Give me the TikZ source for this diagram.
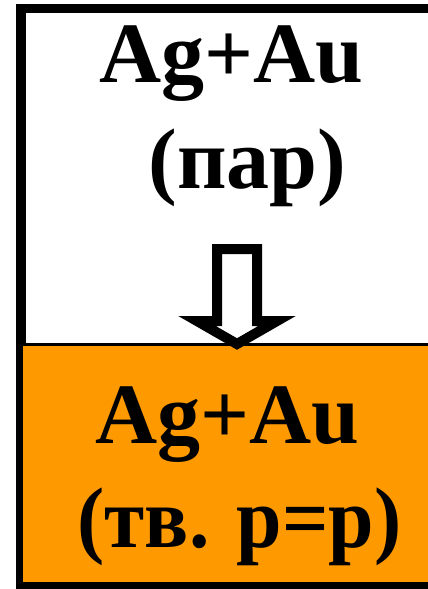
\documentclass[tikz,border=0pt]{standalone}
\usepackage{fontspec}
\setmainfont{Liberation Serif}
\usetikzlibrary{positioning}
\definecolor{solidorange}{RGB}{255,153,0}

\begin{document}
\begin{tikzpicture}[x=1pt,y=-1pt,every node/.style={font=\fontsize{86}{100}\selectfont\bfseries,inner sep=0pt,anchor=base}]
\useasboundingbox (0,0) rectangle (428,589);
\clip (0,0) rectangle (428,589);
\draw[line width=9.5pt] (21,8.5) rectangle (450,588);
\draw[line width=2.5pt,fill=solidorange] (22,344.5) rectangle (450,583.5);
\coordinate (a0) at (217,249);
\coordinate (a1) at (257,249);
\coordinate (a2) at (257,321);
\coordinate (a3) at (277,321);
\coordinate (a4) at (237,344);
\coordinate (a5) at (197,321);
\coordinate (a6) at (217,321);
\draw[line width=10pt,miter limit=10,fill=white] (a0)--(a1)--(a2)--(a3)--(a4)--(a5)--(a6)--cycle;
\node (vap1) at (231.5,82) {Ag+Au};
\node (vap2) at (247.5,188) {(пар)};
\node (sol1) at (227.5,443) {Ag+Au};
\node (sol2) at (239.5,547) {\scalebox{0.95}[1]{(тв. р=р)}};
\end{tikzpicture}
\end{document}
